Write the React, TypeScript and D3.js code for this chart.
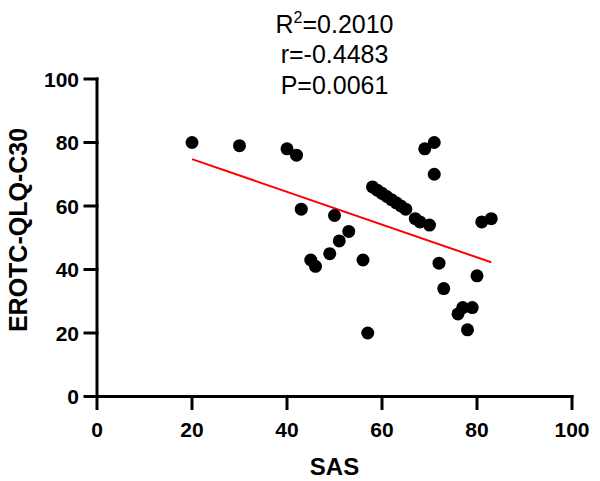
import React from "react";
import * as d3 from "d3";

const sasValues = [20, 30, 40, 42, 43, 45, 46, 49, 50, 51, 53, 56, 57, 58, 59, 60, 61, 62, 63, 64, 65, 67, 68, 70, 69, 71, 71, 72, 73, 76, 77, 79, 78, 80, 81, 83];
const qolValues = [80, 79, 78, 76, 59, 43, 41, 45, 57, 49, 52, 43, 20, 66, 65, 64, 63, 62, 61, 60, 59, 56, 55, 54, 78, 80, 70, 42, 34, 26, 28, 28, 21, 38, 55, 56];
const xTicks = [0, 20, 40, 60, 80, 100];
const yTicks = [0, 20, 40, 60, 80, 100];
const fitSlope = -0.516;
const fitIntercept = 85.1;
const fitRange = [20, 83];
const statLines = ["=0.2010", "r=-0.4483", "P=0.0061"];

const W = 600;
const H = 481;
const font = "'Liberation Sans', Arial, sans-serif";

export default function App() {
  const x = d3.scaleLinear().domain([0, 100]).range([97, 572]);
  const y = d3.scaleLinear().domain([0, 100]).range([396.5, 79]);
  const pts = sasValues.map((v, i) => [v, qolValues[i]]);
  const line = d3.line<number>().x((d) => x(d)).y((d) => y(fitIntercept + fitSlope * d));
  const cx = (x(0) + x(100)) / 2;
  return (
    <svg width={W} height={H} style={{ position: "absolute", left: 0, top: 0, background: "#fff" }}>
      <rect width={W} height={H} fill="#fff" />
      {/* title stats */}
      <text x={cx} y={33} textAnchor="middle" fontFamily={font} fontSize={25} fill="#000">
        R<tspan dy={-10} fontSize={16}>2</tspan><tspan dy={10}>{statLines[0]}</tspan>
      </text>
      <text x={cx} y={63} textAnchor="middle" fontFamily={font} fontSize={25} fill="#000">{statLines[1]}</text>
      <text x={cx} y={94} textAnchor="middle" fontFamily={font} fontSize={25} fill="#000">{statLines[2]}</text>
      {/* regression line */}
      <path d={line(fitRange) || ""} stroke="#ff0000" strokeWidth={2} fill="none" />
      {/* points */}
      {pts.map((p, i) => (
        <circle key={i} cx={x(p[0])} cy={y(p[1])} r={6.5} fill="#000" />
      ))}
      {/* axes */}
      <g stroke="#000" strokeWidth={3} fill="none" strokeLinecap="square">
        <line x1={x(0)} x2={x(100)} y1={y(0)} y2={y(0)} />
        <line x1={x(0)} x2={x(0)} y1={y(0)} y2={y(100)} />
        {xTicks.map((t) => (
          <line key={"xt" + t} x1={x(t)} x2={x(t)} y1={y(0)} y2={y(0) + 12} />
        ))}
        {yTicks.map((t) => (
          <line key={"yt" + t} x1={x(0) - 12} x2={x(0)} y1={y(t)} y2={y(t)} />
        ))}
      </g>
      {xTicks.map((t) => (
        <text key={"xl" + t} x={x(t)} y={437} textAnchor="middle" fontFamily={font} fontWeight="bold" fontSize={21} fill="#000">{t}</text>
      ))}
      {yTicks.map((t) => (
        <text key={"yl" + t} x={79} y={y(t)} dy="0.36em" textAnchor="end" fontFamily={font} fontWeight="bold" fontSize={21} fill="#000">{t}</text>
      ))}
      <text x={cx} y={475} textAnchor="middle" fontFamily={font} fontWeight="bold" fontSize={24} fill="#000">SAS</text>
      <text transform={`translate(27,${230}) rotate(-90)`} textAnchor="middle" fontFamily={font} fontWeight="bold" fontSize={25} fill="#000">EROTC-QLQ-C30</text>
    </svg>
  );
}
